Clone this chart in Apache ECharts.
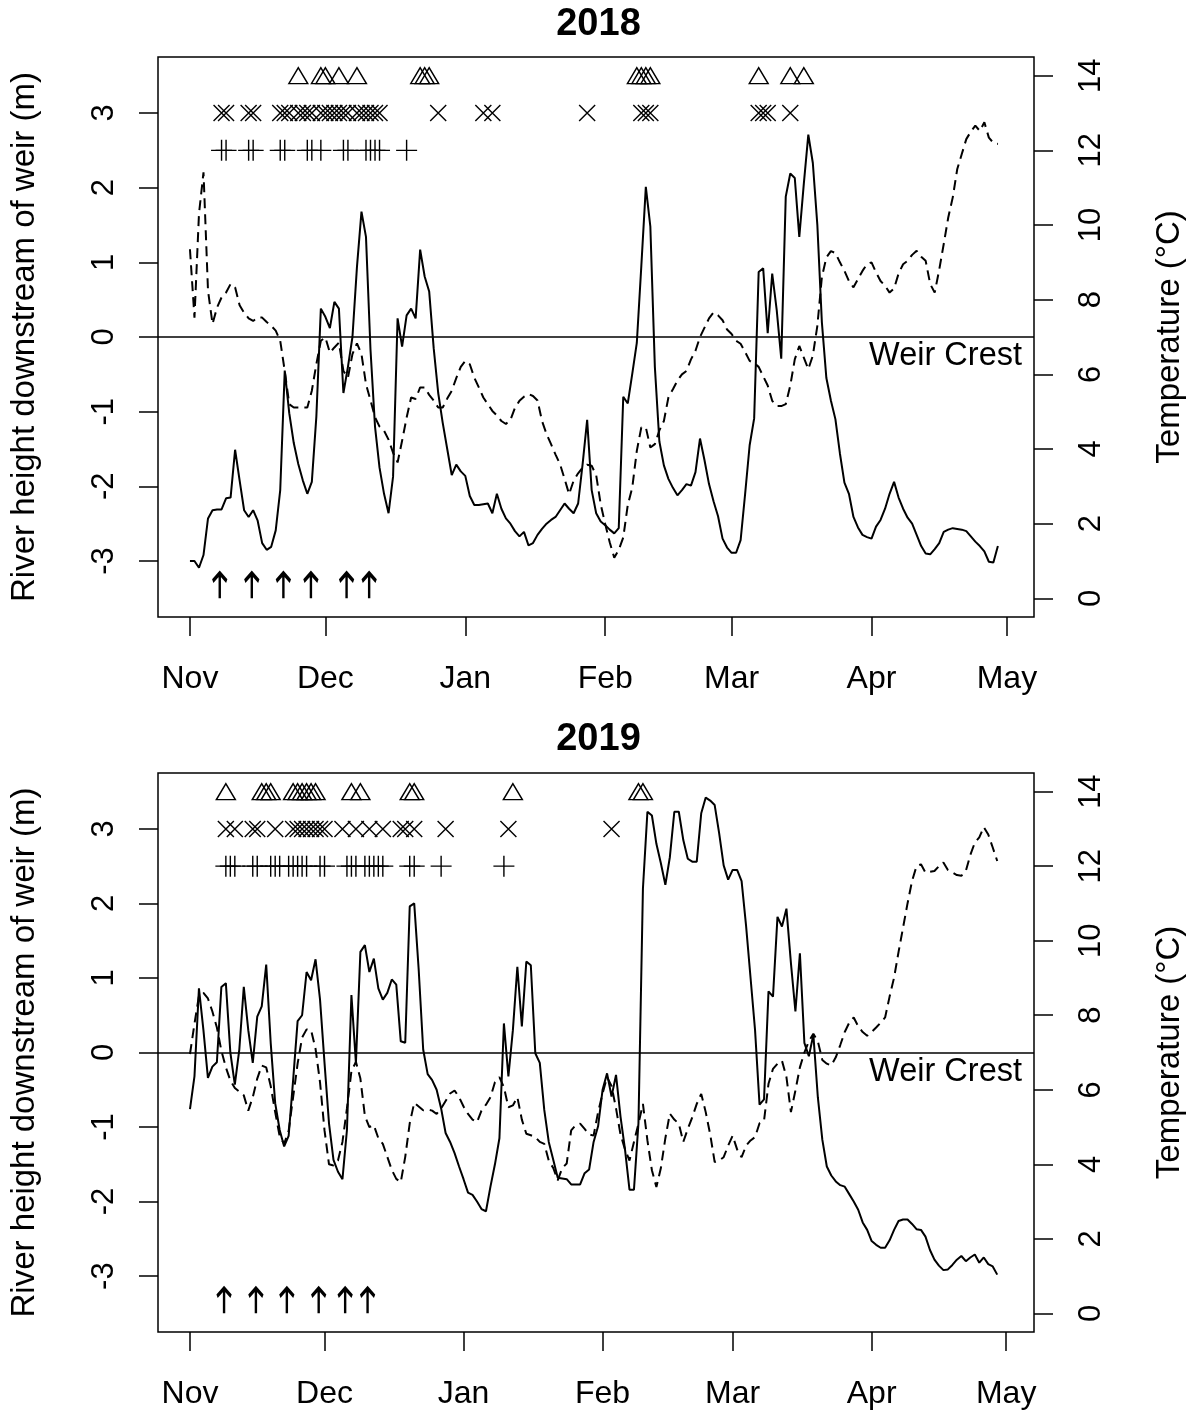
<!DOCTYPE html>
<html>
<head>
<meta charset="utf-8">
<script src="https://cdn.jsdelivr.net/npm/echarts@6/dist/echarts.min.js"></script>
<style>
  html, body { margin: 0; padding: 0; background: #fff; }
  #chart { width: 1197px; height: 1410px; }
</style>
</head>
<body>
<div id="chart"></div>
<script>
// ---- Axis ticks / labels ----
const monthNames = ['Nov', 'Dec', 'Jan', 'Feb', 'Mar', 'Apr', 'May'];
const monthTicks2018 = [0, 30, 61, 92, 120, 151, 181];   // days since 1 Nov 2018
const monthTicks2019 = [0, 30, 61, 92, 121, 152, 182];   // days since 1 Nov 2019 (leap Feb)
const heightTicks = [-3, -2, -1, 0, 1, 2, 3];
const tempTicks = [0, 2, 4, 6, 8, 10, 12, 14];

// ---- 2018/19 season: daily river height (m, relative to weir crest), from 1 Nov ----
const height2018 = [
  -3.00, -3.00, -3.09, -2.92, -2.43, -2.32, -2.31, -2.31, -2.16, -2.15,
  -1.51, -1.92, -2.32, -2.41, -2.32, -2.46, -2.76, -2.85, -2.81, -2.59,
  -2.05, -0.45, -1.02, -1.42, -1.70, -1.92, -2.10, -1.94, -1.07, 0.38,
  0.27, 0.12, 0.47, 0.38, -0.75, -0.40, 0.00, 0.94, 1.68, 1.34,
  -0.17, -1.20, -1.75, -2.10, -2.36, -1.87, 0.25, -0.13, 0.29, 0.38,
  0.25, 1.17, 0.81, 0.61, -0.15, -0.75, -1.15, -1.50, -1.85, -1.71,
  -1.80, -1.86, -2.13, -2.25, -2.25, -2.24, -2.23, -2.36, -2.10, -2.30,
  -2.43, -2.50, -2.60, -2.67, -2.61, -2.79, -2.76, -2.65, -2.57, -2.50,
  -2.45, -2.41, -2.32, -2.23, -2.30, -2.36, -2.23, -1.70, -1.11, -2.05,
  -2.36, -2.47, -2.52, -2.58, -2.63, -2.56, -0.80, -0.89, -0.49, -0.08,
  0.95, 2.01, 1.48, -0.40, -1.40, -1.72, -1.90, -2.02, -2.12, -2.05,
  -1.97, -1.99, -1.81, -1.36, -1.65, -1.97, -2.20, -2.40, -2.70, -2.82,
  -2.89, -2.89, -2.72, -2.10, -1.45, -1.09, 0.87, 0.92, 0.05, 0.85,
  0.36, -0.29, 1.88, 2.19, 2.13, 1.34, 2.05, 2.71, 2.33, 1.50,
  0.20, -0.55, -0.85, -1.10, -1.56, -1.95, -2.10, -2.41, -2.55, -2.65,
  -2.68, -2.70, -2.54, -2.45, -2.30, -2.10, -1.94, -2.15, -2.30, -2.42,
  -2.50, -2.65, -2.80, -2.90, -2.91, -2.84, -2.76, -2.61, -2.58, -2.56,
  -2.57, -2.58, -2.60, -2.67, -2.74, -2.80, -2.87, -3.01, -3.02, -2.80
];
// daily water temperature (°C)
const temp2018 = [
  9.35, 7.52, 10.30, 11.41, 8.24, 7.35, 7.79, 8.06, 8.19, 8.42,
  8.33, 7.85, 7.65, 7.50, 7.43, 7.52, 7.52, 7.40, 7.30, 7.17,
  6.90, 6.09, 5.20, 5.11, 5.11, 5.11, 5.11, 5.56, 6.27, 6.90,
  6.99, 6.58, 6.72, 6.85, 6.09, 5.91, 6.54, 6.83, 6.54, 5.74,
  5.30, 4.85, 4.60, 4.49, 4.25, 3.90, 3.64, 4.22, 4.84, 5.38,
  5.34, 5.65, 5.65, 5.45, 5.30, 5.11, 5.11, 5.35, 5.56, 5.90,
  6.20, 6.36, 6.27, 5.91, 5.65, 5.38, 5.20, 5.02, 4.90, 4.75,
  4.67, 4.78, 5.10, 5.29, 5.40, 5.47, 5.42, 5.30, 4.75, 4.40,
  4.13, 3.85, 3.59, 3.20, 2.79, 3.15, 3.35, 3.50, 3.58, 3.55,
  3.30, 2.52, 1.99, 1.50, 1.09, 1.30, 1.63, 2.50, 2.97, 3.95,
  4.58, 4.58, 4.04, 4.13, 4.50, 4.75, 5.38, 5.60, 5.83, 6.00,
  6.09, 6.40, 6.63, 7.00, 7.25, 7.50, 7.66, 7.58, 7.45, 7.20,
  7.08, 6.90, 6.82, 6.60, 6.36, 6.30, 6.20, 5.95, 5.70, 5.29,
  5.15, 5.15, 5.20, 5.70, 6.40, 6.76, 6.45, 6.14, 6.50, 7.30,
  8.60, 9.13, 9.30, 9.25, 9.00, 8.77, 8.50, 8.33, 8.55, 8.77,
  8.95, 9.00, 8.73, 8.50, 8.37, 8.19, 8.30, 8.70, 8.95, 9.04,
  9.20, 9.31, 9.15, 9.04, 8.42, 8.19, 8.80, 9.49, 10.20, 10.74,
  11.50, 11.90, 12.30, 12.50, 12.66, 12.52, 12.75, 12.34, 12.20, 12.17
];
// detection days (days since 1 Nov)
const triangles2018 = [24, 29, 30, 33, 37, 51, 52, 53, 99, 100, 101, 102, 126, 133, 136];
const crosses2018 = [7, 8, 13, 14, 20, 21, 22, 24, 25, 26, 27, 29, 30, 31, 32, 33, 34, 35, 37, 38, 39, 40, 41, 42,
  55, 65, 67, 88, 100, 101, 102, 126, 127, 128, 133];
const pluses2018 = [7, 8, 13, 14, 20, 21, 26, 27, 29, 34, 35, 39, 40, 41, 42, 48];
const arrows2018 = [6.6, 13.7, 20.7, 26.8, 34.7, 39.7];

// ---- 2019/20 season ----
const height2019 = [
  -0.76, -0.32, 0.86, 0.30, -0.34, -0.19, -0.13, 0.88, 0.93, 0.00,
  -0.43, 0.04, 0.88, 0.30, -0.14, 0.48, 0.62, 1.18, 0.13, -0.68,
  -1.04, -1.26, -1.12, -0.37, 0.42, 0.50, 1.08, 0.97, 1.25, 0.71,
  -0.14, -0.95, -1.44, -1.60, -1.70, -1.04, 0.77, -0.14, 1.35, 1.44,
  1.08, 1.26, 0.86, 0.71, 0.80, 0.98, 0.91, 0.15, 0.13, 1.96,
  2.00, 1.11, 0.04, -0.29, -0.37, -0.50, -0.75, -1.08, -1.20, -1.35,
  -1.53, -1.70, -1.88, -1.91, -2.00, -2.10, -2.13, -1.80, -1.50, -1.15,
  0.39, -0.32, 0.30, 1.15, 0.35, 1.22, 1.17, -0.01, -0.14, -0.77,
  -1.20, -1.44, -1.68, -1.69, -1.70, -1.77, -1.77, -1.77, -1.62, -1.57,
  -1.20, -0.99, -0.50, -0.28, -0.59, -0.30, -0.86, -1.30, -1.84, -1.84,
  -0.95, 2.20, 3.23, 3.18, 2.80, 2.54, 2.25, 2.62, 3.23, 3.23,
  2.85, 2.60, 2.56, 2.56, 3.21, 3.42, 3.38, 3.32, 2.94, 2.51,
  2.32, 2.45, 2.45, 2.30, 1.70, 1.00, 0.30, -0.70, -0.63, 0.82,
  0.75, 1.82, 1.69, 1.93, 1.20, 0.55, 1.33, 0.13, -0.05, 0.24,
  -0.60, -1.17, -1.53, -1.65, -1.73, -1.78, -1.80, -1.90, -2.00, -2.11,
  -2.28, -2.38, -2.53, -2.58, -2.62, -2.62, -2.52, -2.38, -2.26, -2.24,
  -2.24, -2.30, -2.37, -2.38, -2.47, -2.65, -2.78, -2.86, -2.92, -2.91,
  -2.85, -2.78, -2.73, -2.80, -2.75, -2.71, -2.82, -2.75, -2.84, -2.87,
  -2.98
];
const temp2019 = [
  6.96, 7.77, 8.52, 8.60, 8.45, 8.10, 7.67, 7.05, 6.60, 6.25,
  6.05, 5.95, 5.85, 5.44, 5.80, 6.30, 6.65, 6.60, 6.10, 5.40,
  4.75, 4.55, 4.90, 5.80, 6.70, 7.40, 7.62, 7.60, 7.10, 6.20,
  4.91, 4.00, 3.97, 4.10, 4.60, 5.50, 6.50, 6.75, 6.30, 5.30,
  5.00, 5.05, 4.70, 4.55, 4.20, 3.85, 3.61, 3.52, 4.20, 5.10,
  5.65, 5.55, 5.45, 5.47, 5.44, 5.35, 5.50, 5.70, 5.90, 5.98,
  5.80, 5.55, 5.35, 5.20, 5.13, 5.44, 5.60, 5.80, 6.20, 6.34,
  6.07, 5.53, 5.58, 5.80, 5.20, 4.82, 4.78, 4.73, 4.60, 4.55,
  4.10, 3.90, 3.57, 3.90, 4.02, 4.91, 5.05, 5.09, 4.95, 4.80,
  4.77, 5.40, 5.90, 6.34, 6.10, 5.50, 4.80, 4.40, 4.10, 4.60,
  5.09, 5.62, 4.64, 3.84, 3.39, 3.90, 4.70, 5.36, 5.20, 5.09,
  4.60, 4.95, 5.26, 5.62, 5.89, 5.40, 4.80, 4.06, 4.10, 4.19,
  4.50, 4.77, 4.40, 4.19, 4.50, 4.64, 4.73, 5.10, 5.17, 6.16,
  6.56, 6.70, 6.78, 6.34, 5.40, 5.98, 6.60, 7.00, 7.30, 7.50,
  7.30, 6.80, 6.70, 6.65, 6.87, 7.20, 7.55, 7.80, 7.94, 7.70,
  7.55, 7.45, 7.55, 7.67, 7.80, 7.94, 8.50, 9.01, 9.70, 10.35,
  11.00, 11.60, 12.00, 12.05, 11.83, 11.85, 11.87, 12.00, 12.10, 11.90,
  11.83, 11.76, 11.74, 11.87, 12.30, 12.63, 12.77, 13.05, 12.85, 12.50,
  12.14
];
const triangles2019 = [8, 16, 17, 18, 23, 24, 25, 26, 27, 28, 36, 38, 49, 50, 72, 100, 101];
const crosses2019 = [8, 10, 14, 15, 19, 23, 24, 25, 26, 27, 28, 29, 30, 34, 37, 40, 43, 47, 48, 50, 57, 71, 94];
const pluses2019 = [8, 9, 10, 14, 15, 18, 19, 20, 22, 23, 24, 25, 26, 29, 30, 35, 36, 37, 39, 40, 41, 42, 43, 49, 50, 56, 70];
const arrows2019 = [7.6, 14.7, 21.6, 28.7, 34.6, 39.6];

// ---- drawing ----
const FONT = '"Liberation Sans", Arial, Helvetica, sans-serif';
const BLACK = '#000';
const SYM_TRIANGLE = 'path://M0,16L9.5,0L19,16Z';
const SYM_CROSS = 'path://M0,0L16,16M16,0L0,16';
const SYM_PLUS = 'path://M10.5,0L10.5,21M0,10.5L21,10.5';
const SYM_ARROW = 'path://M0,8L7,0L14,8M7,0L7,25';

function xAxisFor(gridIndex, ticks, min, max) {
  return {
    type: 'value', gridIndex, min, max, position: 'bottom',
    axisLine: { show: false, onZero: false },
    splitLine: { show: false },
    axisTick: { show: true, inside: false, customValues: ticks, length: 19, lineStyle: { color: BLACK, width: 1.5 } },
    axisLabel: {
      customValues: ticks, margin: 46, fontSize: 32, color: BLACK, fontFamily: FONT,
      formatter: v => monthNames[ticks.indexOf(v)] || ''
    }
  };
}

function yAxisFor(gridIndex, position, min, max, ticks, name, nameGap, margin) {
  return {
    type: 'value', gridIndex, position, min, max,
    name, nameLocation: 'middle', nameGap, nameRotate: 90, nameMoveOverlap: false,
    nameTextStyle: { fontSize: 33, color: BLACK, fontFamily: FONT },
    axisLine: { show: false, onZero: false },
    splitLine: { show: false },
    axisTick: { show: true, inside: false, customValues: ticks, length: 19, lineStyle: { color: BLACK, width: 1.5 } },
    axisLabel: { customValues: ticks, rotate: 90, margin, fontSize: 31, color: BLACK, fontFamily: FONT }
  };
}

function markerSeries(xi, yi, days, level, symbol, size, width) {
  return {
    type: 'scatter', xAxisIndex: xi, yAxisIndex: yi, silent: true,
    data: days.map(d => [d, level]),
    symbol, symbolSize: size,
    itemStyle: { color: 'rgba(0,0,0,0)', borderColor: BLACK, borderWidth: width, opacity: 1 }
  };
}

function panelSeries(g, heights, temps, tri, crosses, pluses, arrows) {
  const yl = 2 * g, yr = 2 * g + 1;
  return [
    {
      type: 'line', xAxisIndex: g, yAxisIndex: yl, symbol: 'none', silent: true,
      data: heights.map((v, i) => [i, v]),
      lineStyle: { color: BLACK, width: 2 },
      markLine: {
        silent: true, symbol: 'none', animation: false,
        data: [{ yAxis: 0 }],
        lineStyle: { color: BLACK, width: 1.5, type: 'solid' },
        label: {
          show: true, position: 'insideEndBottom', formatter: 'Weir Crest',
          fontSize: 32.5, color: BLACK, fontFamily: FONT, distance: [12, 3]
        }
      }
    },
    {
      type: 'line', xAxisIndex: g, yAxisIndex: yr, symbol: 'none', silent: true,
      data: temps.map((v, i) => [i, v]),
      lineStyle: { color: BLACK, width: 2, type: [10, 6] }
    },
    markerSeries(g, yl, tri, 3.5, SYM_TRIANGLE, [19, 16], 1.4),
    markerSeries(g, yl, crosses, 3.0, SYM_CROSS, [16, 16], 1.4),
    markerSeries(g, yl, pluses, 2.5, SYM_PLUS, [21, 21], 1.4),
    markerSeries(g, yl, arrows, -3.33, SYM_ARROW, [14, 25], 3.2)
  ];
}

const chart = echarts.init(document.getElementById('chart'), null, { renderer: 'canvas' });
chart.setOption({
  animation: false,
  backgroundColor: '#fff',
  textStyle: { fontFamily: FONT },
  title: [
    { text: '2018', left: 'center', top: 1, textStyle: { fontSize: 38, fontWeight: 'bold', color: BLACK, fontFamily: FONT } },
    { text: '2019', left: 'center', top: 716, textStyle: { fontSize: 38, fontWeight: 'bold', color: BLACK, fontFamily: FONT } }
  ],
  grid: [
    { left: 157, top: 57, width: 877, height: 560, show: true, borderColor: BLACK, borderWidth: 1.5, backgroundColor: 'transparent' },
    { left: 157, top: 773, width: 877, height: 560, show: true, borderColor: BLACK, borderWidth: 1.5, backgroundColor: 'transparent' }
  ],
  xAxis: [
    xAxisFor(0, monthTicks2018, -7.08, 187.0),
    xAxisFor(1, monthTicks2019, -7.13, 188.2)
  ],
  yAxis: [
    yAxisFor(0, 'left', -3.75, 3.75, heightTicks, 'River height downstream of weir (m)', 117, 38),
    yAxisFor(0, 'right', -0.5, 14.5, tempTicks, 'Temperature (°C)', 119, 42),
    yAxisFor(1, 'left', -3.75, 3.75, heightTicks, 'River height downstream of weir (m)', 117, 38),
    yAxisFor(1, 'right', -0.5, 14.5, tempTicks, 'Temperature (°C)', 119, 42)
  ],
  series: [
    ...panelSeries(0, height2018, temp2018, triangles2018, crosses2018, pluses2018, arrows2018),
    ...panelSeries(1, height2019, temp2019, triangles2019, crosses2019, pluses2019, arrows2019)
  ]
});
</script>
</body>
</html>
